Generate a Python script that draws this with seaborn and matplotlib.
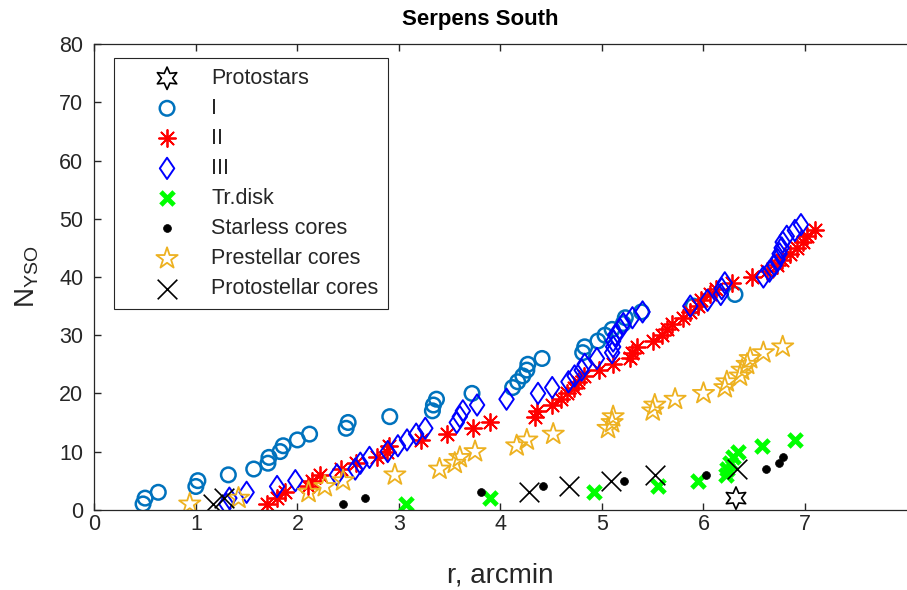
import numpy as np
import pandas as pd
import matplotlib
matplotlib.use("Agg")
import matplotlib.pyplot as plt
from matplotlib.path import Path
import seaborn as sns

# cumulative counts vs radius
proto_r = [6.32]
proto_n = [2]

c1_r = [0.48, 0.50, 0.63, 1.00, 1.02, 1.32, 1.57, 1.71, 1.72, 1.83, 1.86, 2.00, 2.12,
        2.48, 2.50, 2.91, 3.33, 3.34, 3.37, 3.72, 4.12, 4.17, 4.22, 4.26, 4.27, 4.41,
        4.81, 4.83, 4.96, 5.03, 5.10, 5.21, 5.23, 5.39, 5.90, 6.31]
c1_n = [1, 2, 3, 4, 5, 6, 7, 8, 9, 10, 11, 12, 13,
        14, 15, 16, 17, 18, 19, 20, 21, 22, 23, 24, 25, 26,
        27, 28, 29, 30, 31, 32, 33, 34, 35, 37]

c2_r = [1.70, 1.80, 1.88, 2.10, 2.14, 2.22, 2.43, 2.58, 2.78, 2.88, 2.90, 3.22,
        3.47, 3.73, 3.90, 4.34, 4.36, 4.51, 4.60, 4.66, 4.72, 4.76, 4.82, 4.97,
        5.11, 5.28, 5.30, 5.35, 5.50, 5.59, 5.64, 5.69, 5.80, 5.87, 5.95, 5.98,
        6.06, 6.12, 6.28, 6.48, 6.63, 6.72, 6.77, 6.85, 6.92, 6.98, 7.02, 7.10]
c2_n = [1, 2, 3, 4, 5, 6, 7, 8, 9, 10, 11, 12,
        13, 14, 15, 16, 17, 18, 19, 20, 21, 22, 23, 24,
        25, 26, 27, 28, 29, 30, 31, 32, 33, 34, 35, 36,
        37, 38, 39, 40, 41, 42, 43, 44, 45, 46, 47, 48]

c3_r = [1.30, 1.33, 1.50, 1.80, 1.98, 2.39, 2.57, 2.62, 2.71, 2.89, 2.99, 3.08, 3.17,
        3.26, 3.57, 3.60, 3.63, 3.77, 4.06, 4.37, 4.51, 4.67, 4.73, 4.80, 4.83, 4.95,
        5.10, 5.11, 5.11, 5.13, 5.18, 5.21, 5.30, 5.40, 5.87, 6.04, 6.17, 6.18, 6.21,
        6.59, 6.65, 6.70, 6.73, 6.75, 6.77, 6.78, 6.82, 6.90, 6.96]
c3_n = [1, 2, 3, 4, 5, 6, 7, 8, 9, 10, 11, 12, 13,
        14, 15, 16, 17, 18, 19, 20, 21, 22, 23, 24, 25, 26,
        27, 28, 29, 30, 31, 32, 33, 34, 35, 36, 37, 38, 39,
        40, 41, 42, 43, 44, 45, 46, 47, 48, 49]

tr_r = [3.07, 3.90, 4.92, 5.55, 5.95, 6.22, 6.23, 6.26, 6.29, 6.34, 6.58, 6.90]
tr_n = [1, 2, 3, 4, 5, 6, 7, 8, 9, 10, 11, 12]

sl_r = [2.45, 2.67, 3.81, 4.42, 5.22, 6.02, 6.62, 6.74, 6.78]
sl_n = [1, 2, 3, 4, 5, 6, 7, 8, 9]

pre_r = [0.94, 1.42, 2.11, 2.27, 2.45, 2.96, 3.40, 3.55, 3.60, 3.75, 4.16, 4.26, 4.52,
         5.06, 5.10, 5.11, 5.50, 5.52, 5.72, 6.00, 6.21, 6.23, 6.36, 6.38, 6.43, 6.46,
         6.59, 6.78]
pre_n = [1, 2, 3, 4, 5, 6, 7, 8, 9, 10, 11, 12, 13,
         14, 15, 16, 17, 18, 19, 20, 21, 22, 23, 24, 25, 26,
         27, 28]

psc_r = [1.17, 1.28, 4.28, 4.68, 5.09, 5.52, 6.33]
psc_n = [1, 2, 3, 4, 5, 6, 7]

sns.set_theme(style="white")
plt.rcParams['font.family'] = ['Liberation Sans', 'DejaVu Sans']
plt.rcParams['mathtext.default'] = 'regular'

# matlab-like tall diamond
diamond = Path([(0, -1), (0.68, 0), (0, 1), (-0.68, 0), (0, -1)],
               [Path.MOVETO, Path.LINETO, Path.LINETO, Path.LINETO, Path.CLOSEPOLY])

fig = plt.figure(figsize=(9.07, 5.9), dpi=100)
ax = fig.add_axes([0.104, 0.136, 0.8955, 0.789])

dark = '#262626'

# order as in the legend (later ones drawn on top)
sns.scatterplot(x=proto_r, y=proto_n, ax=ax, marker=(6, 1, 0), s=260,
                facecolor='none', edgecolor='black', linewidth=1.2, label='Protostars')
sns.scatterplot(x=c1_r, y=c1_n, ax=ax, marker='o', s=110,
                facecolor='none', edgecolor='#0072BD', linewidth=1.8, label='I')
sns.scatterplot(x=c2_r, y=c2_n, ax=ax, marker=(8, 2, 0), s=150,
                color='#FF0000', linewidth=1.3, label='II')
sns.scatterplot(x=c3_r, y=c3_n, ax=ax, marker=diamond, s=235,
                facecolor='none', edgecolor='#0000FF', linewidth=1.4, label='III')
sns.scatterplot(x=tr_r, y=tr_n, ax=ax, marker='x', s=90,
                color='#00FF00', linewidth=3.5, label='Tr.disk')
sns.scatterplot(x=sl_r, y=sl_n, ax=ax, marker='o', s=32,
                color='black', edgecolor='black', linewidth=0.5, label='Starless cores')
sns.scatterplot(x=pre_r, y=pre_n, ax=ax, marker='*', s=260,
                facecolor='none', edgecolor='#EDB120', linewidth=1.3, label='Prestellar cores')
sns.scatterplot(x=psc_r, y=psc_n, ax=ax, marker='x', s=200,
                color='black', linewidth=1.2, label='Protostellar cores')

ax.set_xlim(0, 8)
ax.set_ylim(0, 80)
ax.set_xticks(range(0, 8))
ax.set_yticks(range(0, 81, 10))
ax.tick_params(direction='in', length=5, width=1, colors=dark, labelsize=15.5,
               top=True, right=False, bottom=True, left=True)
ax.tick_params(axis='x', pad=3)
ax.tick_params(axis='y', pad=8)
for side in ['left', 'bottom', 'top']:
    ax.spines[side].set_color(dark)
    ax.spines[side].set_linewidth(0.9)
ax.spines['right'].set_visible(False)

ax.set_xlabel('r, arcmin', fontsize=20, color=dark)
ax.xaxis.set_label_coords(0.5, -0.114)
ax.set_ylabel('N$_{YSO}$', fontsize=20, color=dark)
ax.yaxis.set_label_coords(-0.066, 0.5)
ax.set_title('Serpens South', fontsize=16, fontweight='bold', color='black', pad=14, x=0.475)

leg = ax.legend(loc='upper left', bbox_to_anchor=(0.0246, 0.970), fontsize=15.5,
                frameon=True, fancybox=False, edgecolor=dark, framealpha=1,
                handletextpad=0.05, borderpad=0.45, labelspacing=0.42,
                handlelength=4.0, borderaxespad=0)
leg.get_frame().set_linewidth(0.8)

plt.savefig('out.png', dpi=100)
